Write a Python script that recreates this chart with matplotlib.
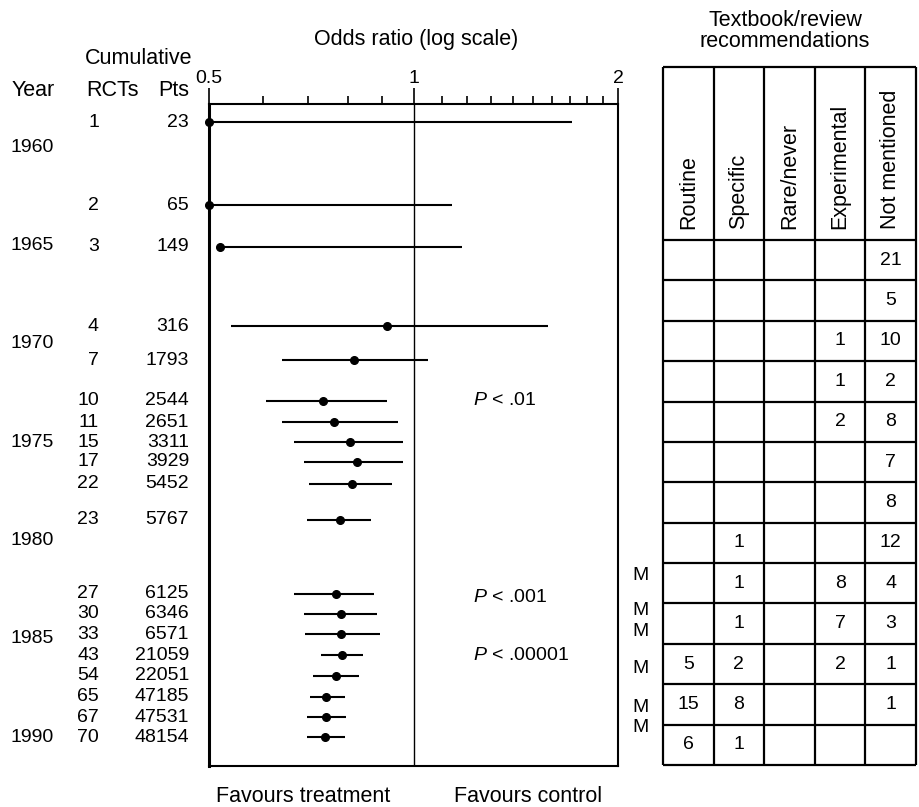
import numpy as np
import matplotlib.pyplot as plt
from matplotlib.ticker import FixedLocator, NullFormatter

plt.rcParams["font.family"] = ["Liberation Sans", "DejaVu Sans"]
plt.rcParams["mathtext.fontset"] = "custom"
plt.rcParams["mathtext.it"] = "Liberation Sans:italic"
plt.rcParams["mathtext.rm"] = "Liberation Sans"

W, H = 919, 807
FS = 14      # numbers
FS_T = 15.5  # words

# %%
# Data

rcts = [1, 2, 3, 4, 7, 10, 11, 15, 17, 22, 23, 27, 30, 33, 43, 54, 65, 67, 70]
pts = ["23", "65", "149", "316", "1793", "2544", "2651", "3311", "3929", "5452",
       "5767", "6125", "6346", "6571", "21059", "22051", "47185", "47531", "48154"]
# vertical position of each cumulative row, in (decimal) years
row_year = [1958.73, 1962.95, 1965.08, 1969.10, 1970.83, 1972.91, 1973.98,
            1975.00, 1976.01, 1977.13, 1978.96, 1982.72, 1983.74, 1984.76,
            1985.83, 1986.89, 1987.96, 1988.98, 1990.00]
or_est = [0.50, 0.50, 0.519, 0.914, 0.817, 0.736, 0.764, 0.806, 0.826, 0.812,
          0.780, 0.769, 0.782, 0.782, 0.785, 0.769, 0.743, 0.743, 0.741]
or_lo = [0.50, 0.50, 0.519, 0.538, 0.640, 0.607, 0.640, 0.667, 0.690, 0.702,
         0.697, 0.667, 0.690, 0.692, 0.731, 0.711, 0.704, 0.697, 0.697]
or_hi = [1.71, 1.14, 1.18, 1.58, 1.05, 0.914, 0.949, 0.965, 0.965, 0.930,
         0.866, 0.875, 0.884, 0.893, 0.843, 0.831, 0.793, 0.796, 0.793]

year_labels = [1960, 1965, 1970, 1975, 1980, 1985, 1990]

p_labels = ["$P$ < .01", "$P$ < .001", "$P$ < .00001"]
p_year = [1972.91, 1982.92, 1985.83]

meta_year = [1981.76, 1983.54, 1984.61, 1986.49, 1988.52, 1989.49]

rec_cols = ["Routine", "Specific", "Rare/never", "Experimental", "Not mentioned"]
rec_rows = [
    ["", "", "", "", "21"],
    ["", "", "", "", "5"],
    ["", "", "", "1", "10"],
    ["", "", "", "1", "2"],
    ["", "", "", "2", "8"],
    ["", "", "", "", "7"],
    ["", "", "", "", "8"],
    ["", "1", "", "", "12"],
    ["", "1", "", "8", "4"],
    ["", "1", "", "7", "3"],
    ["5", "2", "", "2", "1"],
    ["15", "8", "", "", "1"],
    ["6", "1", "", "", ""],
]


def fx(px):
    return px / W


def fy(py):
    return 1 - py / H


fig = plt.figure(figsize=(W / 100, H / 100), dpi=100)

# %%
# Forest plot

ax = fig.add_axes([fx(209), fy(766), fx(618) - fx(209), fy(104) - fy(766)])
ax.set_xscale("log")
ax.set_xlim(0.5, 2)
ax.set_ylim(1991.47, 1957.81)

ax.hlines(row_year, or_lo, or_hi, color="black", lw=1.5)
ax.plot(or_est, row_year, "o", color="black", ms=5.5, clip_on=False)
ax.axvline(1, color="black", lw=1)

for s in ax.spines.values():
    s.set_linewidth(1.5)
ax.spines["left"].set_linewidth(2.2)

ax.xaxis.tick_top()
ax.xaxis.set_major_locator(FixedLocator([0.5, 1, 2]))
ax.xaxis.set_minor_locator(FixedLocator([0.6, 0.7, 0.8, 0.9] + list(np.arange(1.1, 1.95, 0.1))))
ax.xaxis.set_minor_formatter(NullFormatter())
ax.set_xticklabels(["0.5", "1", "2"])
ax.tick_params(axis="x", which="major", length=11.5, width=1.2, pad=1, labelsize=FS)
ax.tick_params(axis="x", which="minor", length=5.5, width=1.2)
ax.set_yticks([])

ytr = ax.get_yaxis_transform()
for r, p, yy in zip(rcts, pts, row_year):
    ax.text((99 - 209) / 409, yy, str(r), transform=ytr, ha="right", va="center", fontsize=FS)
    ax.text((189 - 209) / 409, yy, p, transform=ytr, ha="right", va="center", fontsize=FS)
for yl in year_labels:
    ax.text((10 - 209) / 409, yl, str(yl), transform=ytr, ha="left", va="center", fontsize=FS)
for lab, yy in zip(p_labels, p_year):
    ax.text((473 - 209) / 409, yy, lab, transform=ytr, ha="left", va="center", fontsize=FS)
for yy in meta_year:
    ax.text((640 - 209) / 409, yy, "M", transform=ytr, ha="center", va="center",
            fontsize=FS, clip_on=False)

fig.text(fx(416), fy(40), "Odds ratio (log scale)", ha="center", va="center", fontsize=FS_T)
fig.text(fx(192), fy(58), "Cumulative", ha="right", va="center", fontsize=FS_T)
fig.text(fx(12), fy(90), "Year", ha="left", va="center", fontsize=FS_T)
fig.text(fx(113), fy(90), "RCTs", ha="center", va="center", fontsize=FS_T)
fig.text(fx(189), fy(90), "Pts", ha="right", va="center", fontsize=FS_T)
fig.text(fx(303), fy(796), "Favours treatment", ha="center", va="center", fontsize=FS_T)
fig.text(fx(528), fy(796), "Favours control", ha="center", va="center", fontsize=FS_T)

# %%
# Recommendations table

n_rows = len(rec_rows)
n_cols = len(rec_cols)
row_h = (765 - 240) / n_rows
head_h = (240 - 67) / row_h

tx = fig.add_axes([fx(663), fy(765), fx(916) - fx(663), fy(67) - fy(765)])
tx.set_xlim(0, n_cols)
tx.set_ylim(n_rows, -head_h)
tx.axis("off")

tx.vlines(np.arange(n_cols + 1), -head_h, n_rows, color="black", lw=1.6, clip_on=False)
tx.hlines(np.arange(n_rows + 1), 0, n_cols, color="black", lw=1.6, clip_on=False)
tx.hlines([-head_h], 0, n_cols, color="black", lw=1.6, clip_on=False)

for j, c in enumerate(rec_cols):
    tx.text(j + 0.5, -0.27, c, rotation=90, ha="center", va="bottom", fontsize=FS_T)
for i, row in enumerate(rec_rows):
    for j, v in enumerate(row):
        if v:
            tx.text(j + 0.5, i + 0.5, v, ha="center", va="center", fontsize=FS)

fig.text(fx(785), fy(31), "Textbook/review\nrecommendations", ha="center", va="center",
         fontsize=FS_T, linespacing=1.0)

fig.savefig("out.png", dpi=100)
